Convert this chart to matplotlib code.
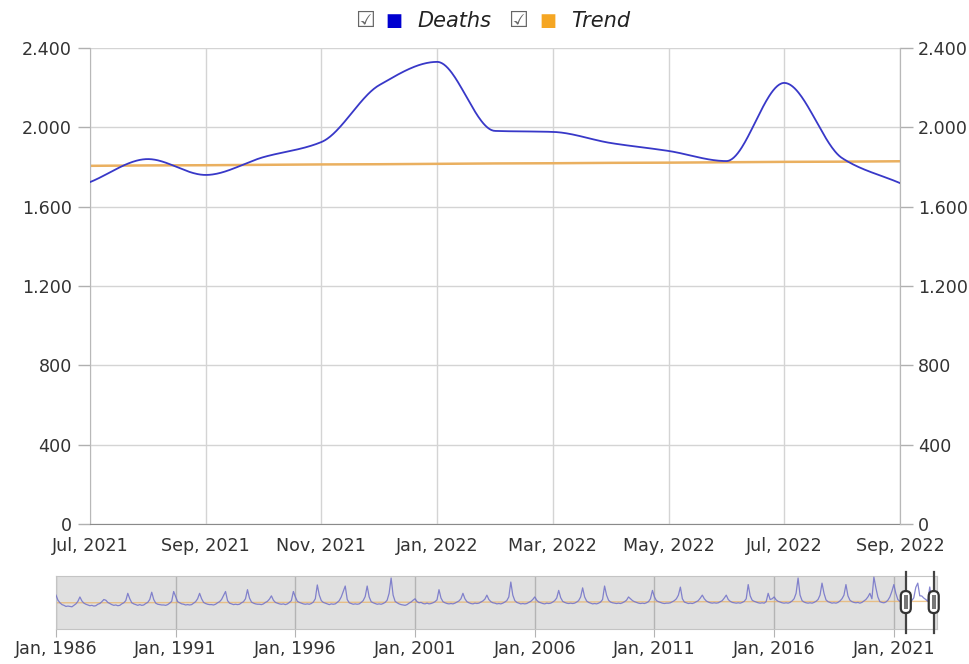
"""
Deaths per month with trend line and a navigator strip (1986 - 2022).
"""

import numpy as np
import matplotlib.pyplot as plt
from matplotlib.patches import FancyBboxPatch, Rectangle
from matplotlib.ticker import FuncFormatter
from matplotlib.transforms import IdentityTransform

# ---- data -------------------------------------------------------------
months = ["Jul, 2021", "Aug, 2021", "Sep, 2021", "Oct, 2021", "Nov, 2021",
          "Dec, 2021", "Jan, 2022", "Feb, 2022", "Mar, 2022", "Apr, 2022",
          "May, 2022", "Jun, 2022", "Jul, 2022", "Aug, 2022", "Sep, 2022"]
deaths = [1724, 1840, 1760, 1850, 1926, 2213, 2330, 1982, 1977, 1921,
          1881, 1830, 2224, 1845, 1719]
trend = [1806, 1808, 1809, 1811, 1813, 1814, 1816, 1818, 1819, 1821,
         1822, 1824, 1826, 1827, 1829]

# monthly history shown in the navigator, Jan 1986 .. Jun 2021
nav_history = [
    [2000, 1860, 1790, 1740, 1720, 1690, 1700, 1690, 1680, 1720, 1760, 1830],  # 1986
    [1950, 1840, 1780, 1750, 1730, 1710, 1720, 1700, 1710, 1750, 1770, 1820],
    [1880, 1860, 1800, 1770, 1740, 1720, 1730, 1710, 1720, 1760, 1790, 1850],
    [2050, 1900, 1790, 1760, 1740, 1720, 1740, 1720, 1730, 1770, 1800, 1880],
    [2080, 1880, 1780, 1750, 1740, 1730, 1730, 1720, 1740, 1780, 1830, 2100],  # 1990
    [1960, 1820, 1790, 1760, 1750, 1730, 1740, 1730, 1740, 1780, 1820, 1900],
    [2050, 1900, 1800, 1770, 1750, 1740, 1740, 1730, 1750, 1790, 1820, 1880],
    [1990, 2100, 1850, 1780, 1760, 1740, 1750, 1740, 1750, 1790, 1820, 1900],
    [2150, 1920, 1810, 1780, 1760, 1750, 1750, 1740, 1760, 1800, 1830, 1890],
    [1980, 1860, 1800, 1780, 1760, 1750, 1760, 1740, 1760, 1800, 1850, 2100],  # 1995
    [1950, 1830, 1800, 1780, 1760, 1750, 1760, 1750, 1770, 1810, 1900, 2280],
    [2000, 1850, 1800, 1780, 1760, 1740, 1760, 1750, 1760, 1800, 1850, 1950],
    [2100, 2250, 1880, 1790, 1770, 1750, 1760, 1750, 1760, 1800, 1850, 1960],
    [2250, 1950, 1820, 1790, 1770, 1750, 1760, 1750, 1770, 1800, 1860, 2050],
    [2470, 2000, 1830, 1790, 1760, 1740, 1730, 1720, 1740, 1780, 1810, 1860],  # 2000
    [1900, 1820, 1790, 1800, 1770, 1760, 1780, 1760, 1770, 1790, 1820, 1870],
    [2150, 1920, 1820, 1790, 1770, 1760, 1770, 1760, 1780, 1810, 1840, 1900],
    [2050, 1900, 1820, 1790, 1770, 1760, 1780, 1770, 1780, 1810, 1840, 1890],
    [2000, 1880, 1820, 1790, 1780, 1760, 1770, 1760, 1780, 1810, 1850, 1950],
    [2360, 2000, 1850, 1800, 1780, 1760, 1770, 1760, 1770, 1800, 1830, 1880],  # 2005
    [1950, 1860, 1810, 1790, 1770, 1760, 1780, 1770, 1780, 1810, 1850, 1920],
    [2130, 1930, 1830, 1800, 1780, 1770, 1780, 1770, 1780, 1810, 1850, 1950],
    [2200, 1950, 1840, 1800, 1780, 1760, 1770, 1760, 1780, 1810, 1880, 2250],
    [2000, 1860, 1810, 1790, 1780, 1770, 1780, 1770, 1790, 1820, 1860, 1950],
    [1900, 1850, 1820, 1800, 1780, 1770, 1780, 1770, 1790, 1820, 1900, 2130],  # 2010
    [1950, 1850, 1820, 1800, 1780, 1770, 1780, 1780, 1790, 1820, 1850, 1900],
    [2000, 2220, 1900, 1810, 1790, 1770, 1780, 1770, 1790, 1820, 1850, 1920],
    [2000, 1900, 1840, 1810, 1790, 1780, 1790, 1780, 1790, 1820, 1850, 1920],
    [2000, 1880, 1830, 1800, 1790, 1780, 1790, 1780, 1800, 1830, 1900, 2290],
    [1980, 1860, 1830, 1810, 1790, 1780, 1790, 1780, 1820, 2050, 1880, 1900],  # 2015
    [1950, 1870, 1830, 1810, 1790, 1780, 1790, 1780, 1800, 1840, 1900, 2050],
    [2470, 2000, 1850, 1810, 1790, 1780, 1790, 1780, 1800, 1830, 1880, 2000],
    [2330, 2050, 1870, 1820, 1800, 1780, 1790, 1780, 1800, 1840, 1900, 2000],
    [2290, 1980, 1860, 1820, 1800, 1790, 1800, 1780, 1800, 1840, 1880, 1950],
    [2050, 1900, 2495, 2200, 1950, 1820, 1800, 1790, 1810, 1860, 1950, 2100],  # 2020
    [2290, 2050, 1880, 1830, 1800, 1780],
]
nav_trend_x = [1986.0, 2022.667]
nav_trend = [1790, 1829]
nav_labels = ["Jan, 1986", "Jan, 1991", "Jan, 1996", "Jan, 2001",
              "Jan, 2006", "Jan, 2011", "Jan, 2016", "Jan, 2021"]
nav_label_years = [1986, 1991, 1996, 2001, 2006, 2011, 2016, 2021]
y_ticks = [0, 400, 800, 1200, 1600, 2000, 2400]

BLUE = "#3838c8"
ORANGE = "#eab060"
GRID = "#d4d4d4"
TEXT = "#333333"

plt.rcParams.update({"font.family": "DejaVu Sans", "font.size": 12.6})


def pchip(x, y, xs):
    # monotone cubic, just for drawing the smooth line
    x = np.asarray(x, float)
    y = np.asarray(y, float)
    h = np.diff(x)
    d = np.diff(y) / h
    m = np.zeros_like(y)
    for k in range(1, len(y) - 1):
        if d[k - 1] * d[k] > 0:
            w1 = 2 * h[k] + h[k - 1]
            w2 = h[k] + 2 * h[k - 1]
            m[k] = (w1 + w2) / (w1 / d[k - 1] + w2 / d[k])
    m[0], m[-1] = d[0], d[-1]
    i = np.clip(np.searchsorted(x, xs) - 1, 0, len(x) - 2)
    t = (xs - x[i]) / h[i]
    h00 = 2 * t**3 - 3 * t**2 + 1
    h10 = t**3 - 2 * t**2 + t
    h01 = -2 * t**3 + 3 * t**2
    h11 = t**3 - t**2
    return h00 * y[i] + h10 * h[i] * m[i] + h01 * y[i + 1] + h11 * h[i] * m[i + 1]


def thousands(v, _pos):
    return f"{int(v):,}".replace(",", ".")


fig = plt.figure(figsize=(9.7, 6.64), dpi=100)

# ---- main chart --------------------------------------------------------
ax = fig.add_axes([0.0928, 0.2108, 0.8350, 0.7169])
idx = np.arange(len(deaths))
xs = np.linspace(0, len(deaths) - 1, 800)
ax.plot(xs, pchip(idx, deaths, xs), color=BLUE, lw=1.3, zorder=3)
ax.plot(idx, trend, color=ORANGE, lw=1.8, zorder=2)

ax.set_xlim(0, len(deaths) - 1)
ax.set_ylim(0, 2400)
ax.set_xticks(idx[::2])
ax.set_xticklabels(months[::2])
ax.set_yticks(y_ticks)
ax.yaxis.set_major_formatter(FuncFormatter(thousands))
ax.grid(True, color=GRID, lw=1)
ax.tick_params(axis="x", length=0, pad=9, colors=TEXT)
ax.tick_params(axis="y", length=9, width=1, color="#b0b0b0", pad=4,
               labelcolor=TEXT)
ax.spines["top"].set_visible(False)
ax.spines["left"].set_color("#b8b8b8")
ax.spines["right"].set_color("#b8b8b8")
ax.spines["bottom"].set_color("#8a8a8a")

ax2 = ax.twinx()
ax2.set_ylim(0, 2400)
ax2.set_yticks(y_ticks)
ax2.yaxis.set_major_formatter(FuncFormatter(thousands))
ax2.tick_params(axis="y", length=9, width=1, color="#b0b0b0", pad=4,
                labelcolor=TEXT)
for side in ["top", "left", "bottom"]:
    ax2.spines[side].set_visible(False)
ax2.spines["right"].set_color("#b8b8b8")

# ---- legend -----------------------------------------------------------
ly = 1 - 21 / 664
fig.text(365 / 970, ly, "\u2611", color="#666666", fontsize=16, ha="center", va="center")
fig.text(394 / 970, ly, "\u25a0", color="#0000d0", fontsize=13, ha="center", va="center")
fig.text(417 / 970, ly, "Deaths", style="italic", fontsize=15, color="#222222",
         ha="left", va="center")
fig.text(518 / 970, ly, "\u2611", color="#666666", fontsize=16, ha="center", va="center")
fig.text(548 / 970, ly, "\u25a0", color="#f5a623", fontsize=13, ha="center", va="center")
fig.text(571 / 970, ly, "Trend", style="italic", fontsize=15, color="#222222",
         ha="left", va="center")

# ---- navigator ---------------------------------------------------------
nav = fig.add_axes([0.0577, 0.0527, 0.9082, 0.0798])
nav_values = [v for row in nav_history for v in row] + deaths
nav_x = 1986 + np.arange(len(nav_values)) / 12
sel_lo, sel_hi = nav_x[len(nav_values) - len(deaths)], nav_x[-1]

nav.set_facecolor("#e0e0e0")
nav.set_xlim(1986, 2022.8)
nav.set_ylim(1070, 2525)
nav.add_patch(Rectangle((sel_lo, 1070), sel_hi - sel_lo, 2525 - 1070,
                        facecolor="white", edgecolor="none", zorder=0.5))
nav.plot(nav_trend_x, nav_trend, color=ORANGE, lw=1, alpha=0.7, zorder=2)
nav.plot(nav_x, nav_values, color="#7070c8", lw=0.9, alpha=0.85, zorder=3)
nav.set_yticks([])
nav.set_xticks(nav_label_years)
nav.set_xticklabels(nav_labels)
nav.grid(True, axis="x", color="#b4b4b4", lw=1)
nav.tick_params(axis="x", length=6, color="#b4b4b4", pad=2, colors=TEXT)
for s in nav.spines.values():
    s.set_color("#c4c4c4")

# selection handles, drawn in pixel space
fig.canvas.draw()
for hx in (sel_lo, sel_hi):
    px, py = nav.transData.transform((hx, 1810))
    _, top = nav.transData.transform((hx, 2525))
    _, bot = nav.transData.transform((hx, 1070))
    fig.add_artist(plt.Line2D([px, px], [bot - 4, top + 4], color="#444444",
                              lw=1.6, transform=IdentityTransform(), zorder=5))
    fig.add_artist(FancyBboxPatch((px - 5, py - 11), 10, 22,
                                  boxstyle="round,pad=0,rounding_size=5",
                                  facecolor="white", edgecolor="#333333",
                                  lw=1.6, transform=IdentityTransform(), zorder=6))
    fig.add_artist(Rectangle((px - 2, py - 7), 4, 14, facecolor="#777777",
                             edgecolor="none", transform=IdentityTransform(),
                             zorder=7))

fig.savefig("out.png", dpi=100)
plt.close(fig)
